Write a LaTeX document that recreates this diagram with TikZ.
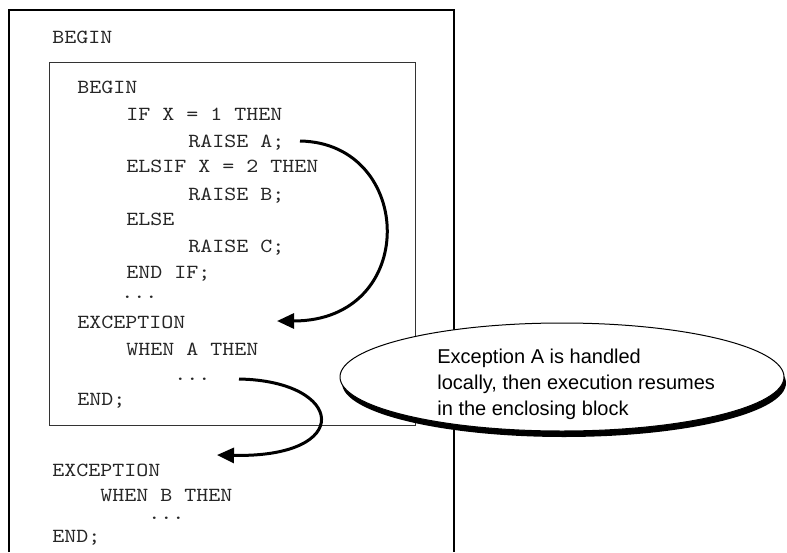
\documentclass[tikz,border=0pt]{standalone}
\usepackage{fontspec}
\setmainfont{Liberation Sans}
\newfontfamily\codefont{lmmono10-regular}[Extension=.otf, FakeStretch=1.143]
\usepackage{tikz}
\usetikzlibrary{arrows.meta,shapes.geometric,shadows}

\tikzset{
  code/.style={font=\codefont\fontsize{10}{12}\selectfont, anchor=base west, inner sep=0pt, text=black!85},
  note/.style={font=\fontsize{10}{13}\selectfont, anchor=base west, inner sep=0pt, align=left},
  jump/.style={line width=1.5pt, -{Triangle[length=8.5pt,width=7.5pt]}},
}

\begin{document}
\begin{tikzpicture}[x=0.5pt, y=-0.5pt]
    \useasboundingbox (0,0) rectangle (787,552);
    % enclosing block (runs off the bottom)
    \draw[line width=0.8pt] (9,552) -- (9,10) -- (454,10) -- (454,552);
    % inner block
    \draw[line width=0.5pt, black!80] (49,62) rectangle (415,425);

    \node[code] (outerBegin)  at (52,43)  {BEGIN};
    \node[code] (innerBegin)  at (77,93)  {BEGIN};
    \node[code] (ifLine)      at (126,120) {IF X = 1 THEN};
    \node[code] (raiseA)      at (188,147) {RAISE A;};
    \node[code] (elsifLine)   at (126,172) {ELSIF X = 2 THEN};
    \node[code] (raiseB)      at (188,200) {RAISE B;};
    \node[code] (elseLine)    at (126,225) {ELSE};
    \node[code] (raiseC)      at (188,252) {RAISE C;};
    \node[code] (endIf)       at (126,278) {END IF;};
    \node[code] (innerDots)   at (121,298) {...};
    \node[code] (innerExc)    at (77,328) {EXCEPTION};
    \node[code] (whenA)       at (126,355) {WHEN A THEN};
    \node[code] (handlerDots) at (174,380) {...};
    \node[code] (innerEnd)    at (77,405) {END;};
    \node[code] (outerExc)    at (52,476) {EXCEPTION};
    \node[code] (whenB)       at (100,501) {WHEN B THEN};
    \node[code] (outerDots)   at (148,519) {...};
    \node[code] (outerEnd)    at (52,542) {END;};

    % callout
    \node[ellipse, draw, line width=0.5pt, fill=white, minimum width=222pt, minimum height=54pt,
          general shadow={fill=black, shadow xshift=1pt, shadow yshift=-3pt}] (callout) at (562,377) {};
    \node[note] (calloutText) at (437,415) {Exception A is handled\\locally, then execution resumes\\in the enclosing block};

    % where control goes
    \coordinate (fromA)  at (300,141);
    \coordinate (toExcA) at (277,321);
    \coordinate (fromH)  at (239,379);
    \coordinate (toExcB) at (217,455);
    \draw[jump] (fromA) .. controls (415,143) and (420,321) .. (toExcA);
    \draw[jump] (fromH) .. controls (345,381) and (355,458) .. (toExcB);
\end{tikzpicture}
\end{document}
